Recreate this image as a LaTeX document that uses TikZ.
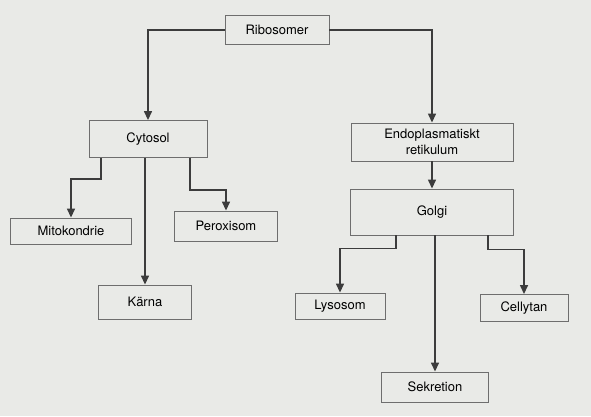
\documentclass[tikz,border=0pt]{standalone}
\usepackage{fontspec}
\setmainfont{TeX Gyre Heros}
\usetikzlibrary{arrows.meta, calc}

\definecolor{paper}{RGB}{233,234,231}
\definecolor{edge}{RGB}{110,110,110}
\definecolor{ink}{RGB}{60,60,60}

\begin{document}
\begin{tikzpicture}[x=1pt, y=-1pt,
    % Define the style for the boxes
    box/.style={
        draw=edge, line width=0.9pt, fill=paper, inner sep=0pt,
        align=center, font=\fontsize{13}{16}\selectfont
    },
    % Define the style for the connectors
    link/.style={
        draw=ink, line width=1.4pt,
        -{Triangle[width=8pt, length=9pt]}
    }
]

% Background of the page
\fill[paper] (0,0) rectangle (591,416);
\useasboundingbox (0,0) rectangle (591,416);

% Define the boxes
\node[box, minimum width=104pt, minimum height=29pt] (ribo) at (277,30) {Ribosomer};
\node[box, minimum width=118pt, minimum height=37pt] (cyto) at (148,139) {Cytosol};
\node[box, minimum width=162pt, minimum height=38pt] (er) at (432,142) {Endoplasmatiskt\\retikulum};
\node[box, minimum width=163pt, minimum height=46pt] (golgi) at (432,212) {Golgi};
\node[box, minimum width=121pt, minimum height=26pt] (mito) at (71,231) {Mitokondrie};
\node[box, minimum width=103pt, minimum height=30pt] (perox) at (226,226) {Peroxisom};
\node[box, minimum width=93pt, minimum height=34pt] (karna) at (145,302) {Kärna};
\node[box, minimum width=90pt, minimum height=26pt] (lyso) at (340,306) {Lysosom};
\node[box, minimum width=88pt, minimum height=27pt] (cell) at (524,308) {Cellytan};
\node[box, minimum width=107pt, minimum height=30pt] (sekr) at (435,387) {Sekretion};

% Draw the connectors
\draw[link] (ribo.west) -| (cyto.north);
\draw[link] (ribo.east) -| (er.north);
\draw[link] ([xshift=-47pt]cyto.south) -- ++(0,21) -| (mito.north);
\draw[link] (karna.north |- cyto.south) -- (karna.north);
\draw[link] ([xshift=42pt]cyto.south) -- ++(0,32) -| (perox.north);
\draw[link] (er.south) -- (golgi.north);
\draw[link] ([xshift=-36pt]golgi.south) -- ++(0,13) -| (lyso.north);
\draw[link] (sekr.north |- golgi.south) -- (sekr.north);
\draw[link] ([xshift=56pt]golgi.south) -- ++(0,14) -| (cell.north);

\end{tikzpicture}
\end{document}
